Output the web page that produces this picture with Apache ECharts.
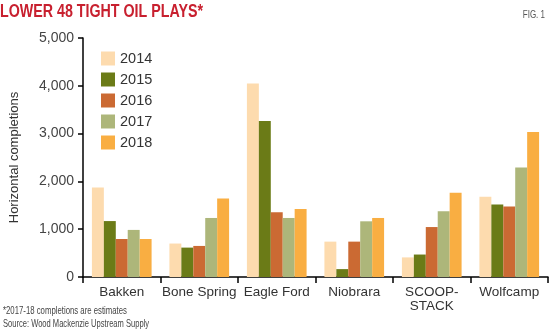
<!DOCTYPE html>
<html><head><meta charset="utf-8">
<script src="https://cdn.jsdelivr.net/npm/echarts@6/dist/echarts.min.js"></script>
<style>html,body{margin:0;padding:0;background:#fff}#c{width:550px;height:332px}</style>
</head><body><div id="c"></div>
<script>
const categories = ['Bakken', 'Bone Spring', 'Eagle Ford', 'Niobrara', 'SCOOP-\nSTACK', 'Wolfcamp'];
const years = ['2014', '2015', '2016', '2017', '2018'];
const v2014 = [1870, 700, 4050, 740, 410, 1680];
const v2015 = [1170, 615, 3265, 165, 470, 1515];
const v2016 = [795, 650, 1355, 740, 1045, 1475];
const v2017 = [985, 1235, 1235, 1165, 1375, 2290];
const v2018 = [795, 1640, 1425, 1235, 1760, 3035];
const yTicks = [0, 1000, 2000, 3000, 4000, 5000];
const colors = ['#FDDBAE', '#6B7B17', '#CB6A33', '#ADB67A', '#F9AE42'];
const seriesData = [v2014, v2015, v2016, v2017, v2018];

const chart = echarts.init(document.getElementById('c'), null, {renderer: 'canvas'});
const narrow = 'Liberation Sans, Arial, sans-serif';
chart.setOption({
  animation: false,
  color: colors,
  graphic: [
    {type: 'text', left: 0, top: 2, scaleX: 0.75,
     style: {text: 'LOWER 48 TIGHT OIL PLAYS*', font: 'bold 19px ' + narrow, fill: '#C8202F'}},
    {type: 'text', right: 5, top: 10, scaleX: 0.8,
     style: {text: 'FIG. 1', font: '10px ' + narrow, fill: '#555'}},
    {type: 'text', left: 3, top: 306, scaleX: 0.74,
     style: {text: '*2017-18 completions are estimates', font: '10.5px ' + narrow, fill: '#444'}},
    {type: 'text', left: 3, top: 319, scaleX: 0.72,
     style: {text: 'Source: Wood Mackenzie Upstream Supply', font: '10.5px ' + narrow, fill: '#444'}}
  ],
  legend: {
    orient: 'vertical', left: 101, top: 51, padding: 0, itemWidth: 14, itemHeight: 14, itemGap: 6,
    data: years, icon: 'rect',
    textStyle: {fontFamily: narrow, fontSize: 14.5, color: '#333'}
  },
  grid: {left: 82, right: 2, top: 38, bottom: 55, containLabel: false},
  xAxis: {
    type: 'category', data: categories,
    axisLine: {lineStyle: {color: '#000', width: 1.5}},
    axisTick: {show: true, length: 6, lineStyle: {color: '#000', width: 1.5}},
    axisLabel: {fontFamily: narrow, fontSize: 13.5, color: '#333', margin: 8, interval: 0, lineHeight: 14}
  },
  yAxis: {
    type: 'value', min: 0, max: 5000, interval: 1000,
    name: 'Horizontal completions', nameLocation: 'middle', nameGap: 62,
    nameTextStyle: {fontFamily: narrow, fontSize: 13, color: '#333'},
    axisLine: {show: true, lineStyle: {color: '#000', width: 1.5}},
    axisTick: {show: true, length: 5, lineStyle: {color: '#000', width: 1.5}},
    splitLine: {show: false},
    axisLabel: {fontFamily: narrow, fontSize: 14, color: '#444', margin: 9,
      formatter: v => yTicks.includes(v) ? v.toLocaleString('en-US') : ''}
  },
  series: years.map((y, i) => ({
    name: y, type: 'bar', data: seriesData[i],
    barGap: '0%', barCategoryGap: '23%',
    itemStyle: {color: colors[i]}
  }))
});
</script></body></html>
